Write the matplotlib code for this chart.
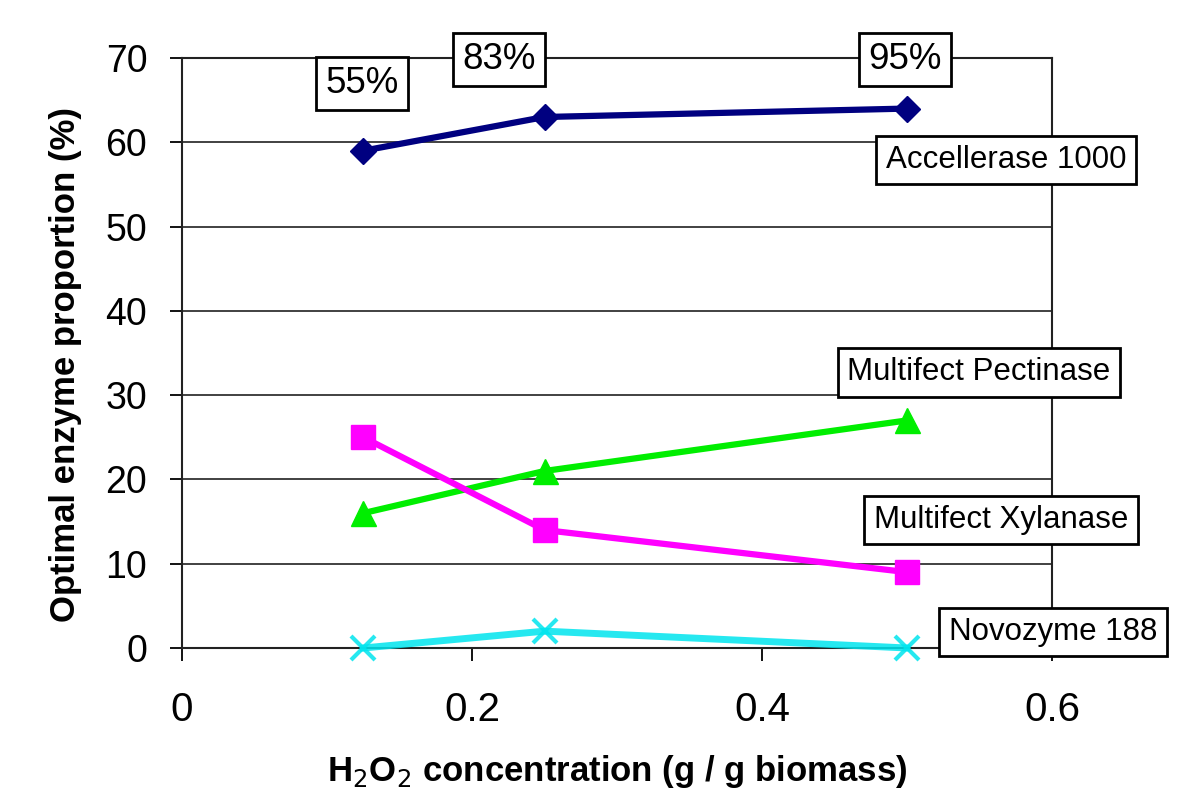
import matplotlib
matplotlib.use("Agg")
import matplotlib.pyplot as plt
from matplotlib import font_manager

# ---- data ----
h2o2 = [0.125, 0.25, 0.5]
accellerase = [59, 63, 64]
pectinase = [16, 21, 27]
xylanase = [25, 14, 9]
novozyme = [0, 2, 0]
series_names = ["Accellerase 1000", "Multifect Pectinase", "Multifect Xylanase", "Novozyme 188"]
pct_labels = ["55%", "83%", "95%"]
x_ticks = [0, 0.2, 0.4, 0.6]
x_ticklabels = ["0", "0.2", "0.4", "0.6"]
y_ticks = [0, 10, 20, 30, 40, 50, 60, 70]

# ---- fonts ----
avail = {f.name for f in font_manager.fontManager.ttflist}
main_font = "Liberation Sans" if "Liberation Sans" in avail else "DejaVu Sans"
narrow_font = "Liberation Sans Narrow" if "Liberation Sans Narrow" in avail else main_font
plt.rcParams["font.family"] = [main_font, "DejaVu Sans"]

fig = plt.figure(figsize=(12, 8.01), dpi=100)
ax = fig.add_axes([182/1200, 1-648/801, (1052-182)/1200, (648-58)/801])

ax.plot(h2o2, accellerase, color="#000080", lw=4.5, marker="D", ms=13, zorder=5, clip_on=False)
ax.plot(h2o2, pectinase, color="#00EE00", lw=4.5, marker="^", ms=18, zorder=5, clip_on=False)
ax.plot(h2o2, xylanase, color="#FF00FF", lw=4.5, marker="s", ms=17, zorder=5, clip_on=False)
ax.plot(h2o2, novozyme, color="#00E5EE", lw=5, marker="x", ms=17, mew=3, alpha=0.85,
        zorder=5, clip_on=False)

ax.set_xlim(0, 0.6)
ax.set_ylim(0, 70)
ax.set_xticks(x_ticks)
ax.set_xticklabels(x_ticklabels, fontsize=29, family=narrow_font)
ax.set_yticks(y_ticks)
ax.tick_params(axis="y", labelsize=27, length=9, width=1.3, direction="out", pad=16)
ax.tick_params(axis="x", length=9, width=1.3, direction="out", pad=22)
ax.yaxis.grid(True, color="#333333", lw=1.3)
ax.set_axisbelow(True)
for s in ax.spines.values():
    s.set_linewidth(1.5)
    s.set_color("#222222")

ax.set_xlabel("H$_2$O$_2$ concentration (g / g biomass)", fontsize=25, fontweight="bold",
              family=narrow_font, labelpad=17)
ax.set_ylabel("Optimal enzyme proportion (%)", fontsize=25, fontweight="bold", labelpad=16)
ax.yaxis.set_label_coords(-0.115, 0.48)

box = dict(boxstyle="square,pad=0.25", fc="white", ec="black", lw=2)

# percentage boxes (positions in data coordinates, layout only)
pct_pos = [(0.1241, 67.0), (0.2186, 69.8), (0.4986, 69.8)]
for lab, (px, py) in zip(pct_labels, pct_pos):
    ax.text(px, py, lab, fontsize=26.5, ha="center", va="center", bbox=box, zorder=6, clip_on=False)

box2 = dict(boxstyle="square,pad=0.3", fc="white", ec="black", lw=2)
name_pos = [(0.5683, 57.9), (0.5497, 32.7), (0.5648, 15.2), (0.6007, 1.9)]
for lab, (px, py) in zip(series_names, name_pos):
    ax.text(px, py, lab, fontsize=22.5, ha="center", va="center", bbox=box2, zorder=6, clip_on=False)

fig.savefig("out.png", dpi=100)
